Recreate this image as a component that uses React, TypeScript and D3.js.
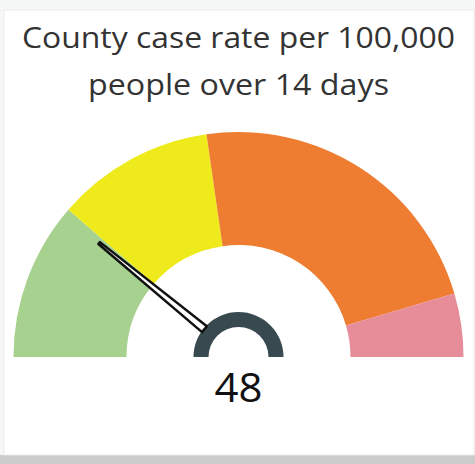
import React from "react";
import * as d3 from "d3";

const titleLines = ["County case rate per 100,000", "people over 14 days"];
const titleWidths = [433, 301];
const bandBreaks = [0, 50, 100, 200, 220];
const bandColors = ["#a6d18e", "#eeea1b", "#ee7d31", "#e78d99"];
const gaugeValue = 48;

const W = 475;
const H = 464;
const cx = 238.5;
const cy = 357;
const outerR = 225;
const innerR = 112;

export default function App() {
  const angle = d3
    .scaleLinear()
    .domain([bandBreaks[0], bandBreaks[bandBreaks.length - 1]])
    .range([-Math.PI / 2, Math.PI / 2]);

  const arc = d3.arc<any>();
  const bands = bandColors.map((c, i) => ({
    color: c,
    path: arc({
      innerRadius: innerR,
      outerRadius: outerR,
      startAngle: angle(bandBreaks[i]),
      endAngle: angle(bandBreaks[i + 1]),
    }) as string,
  }));

  const hub = arc({
    innerRadius: 30,
    outerRadius: 45,
    startAngle: -Math.PI / 2,
    endAngle: Math.PI / 2,
  }) as string;

  const a = angle(gaugeValue);
  const pt = (r: number, off: number) => {
    const dx = Math.sin(a);
    const dy = -Math.cos(a);
    const px = -dy;
    const py = dx;
    return [cx + r * dx + off * px, cy + r * dy + off * py];
  };
  const needlePts = [pt(44, -3.8), pt(180, -1.2), pt(180, 1.2), pt(44, 3.8)];
  const needle = d3.line()(needlePts as [number, number][]) + "Z";

  const font = "'Segoe UI', 'Open Sans', 'Noto Sans', sans-serif";

  return (
    <svg
      width={W}
      height={H}
      style={{ position: "absolute", left: 0, top: 0 }}
    >
      <rect x={0} y={0} width={W} height={H} fill="#f6f7f7" />
      <rect x={0} y={455} width={W} height={9} fill="#cbcbcb" />
      <rect x={4} y={10} width={470} height={445} fill="#ffffff" stroke="#ececec" />
      {titleLines.map((t, i) => (
        <text
          key={i}
          x={cx}
          y={48 + i * 47}
          textAnchor="middle"
          fontFamily={font}
          fontSize={29}
          fill="#333333"
          textLength={titleWidths[i]}
          lengthAdjust="spacingAndGlyphs"
        >
          {t}
        </text>
      ))}
      {bands.map((b, i) => (
        <path key={i} d={b.path} transform={`translate(${cx},${cy})`} fill={b.color} />
      ))}
      <path d={hub} transform={`translate(${cx},${cy})`} fill="#384a4f" />
      <path d={needle} fill="#ffffff" stroke="#111111" strokeWidth={2.5} strokeLinejoin="round" />
      <text
        x={cx}
        y={402}
        textAnchor="middle"
        fontFamily={font}
        fontSize={40}
        fill="#111111"
        textLength={48}
        lengthAdjust="spacingAndGlyphs"
      >
        {gaugeValue}
      </text>
    </svg>
  );
}
